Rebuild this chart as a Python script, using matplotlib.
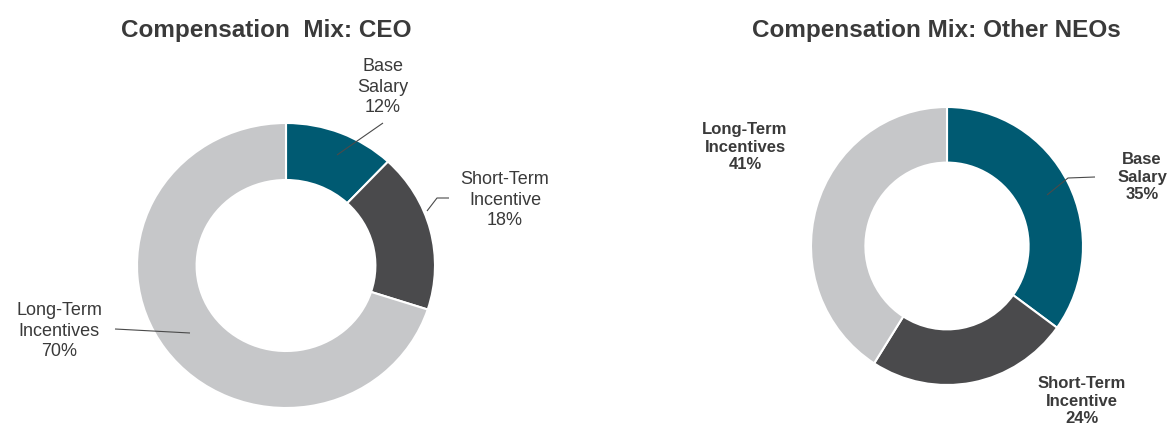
import matplotlib
matplotlib.use("Agg")
import matplotlib.pyplot as plt

# data
components = ["Base\nSalary", "Short-Term\nIncentive", "Long-Term\nIncentives"]
ceo_mix = [12, 18, 70]
neo_mix = [35, 24, 41]
colors = ["#005a72", "#4a4a4c", "#c6c7c9"]

W, H = 1168, 428
fig = plt.figure(figsize=(W / 100, H / 100), dpi=100)


def donut(cx, cy, rx, ry, values):
    # cx, cy, rx, ry in image pixels (y down); axes box sized so the ring fills it
    m = 1.05
    ax = fig.add_axes([(cx - m * rx) / W, (H - cy - m * ry) / H,
                       2 * m * rx / W, 2 * m * ry / H])
    ax.pie(values, colors=colors, startangle=90, counterclock=False,
           wedgeprops=dict(width=0.4, edgecolor="white", linewidth=1.5))
    ax.set_aspect("auto")
    ax.set_xlim(-m, m)
    ax.set_ylim(-m, m)
    ax.axis("off")
    return ax


ax1 = donut(286, 265.5, 149, 142.5, ceo_mix)
ax2 = donut(947, 246, 136, 139, neo_mix)

# overlay in pixel coordinates for titles, labels and leader lines
ov = fig.add_axes([0, 0, 1, 1])
ov.set_xlim(0, W)
ov.set_ylim(H, 0)
ov.axis("off")
ov.patch.set_visible(False)
ov.set_zorder(5)

title_font = dict(family=["Liberation Sans", "DejaVu Sans"], fontsize=17.5,
                  fontweight="bold", color="#3a3a3a", ha="center", va="baseline")
ov.text(266.5, 36.5, "Compensation  Mix: CEO", **title_font)
ov.text(936, 37, "Compensation Mix: Other NEOs", **title_font)

# left chart labels (regular)
left_font = dict(family=["Liberation Sans", "DejaVu Sans"], fontsize=13,
                 color="#3a3a3a", ha="center", va="center", linespacing=1.24)
left_pos = [(383, 87), (505, 200), (59, 331)]
for (x, y), name, v in zip(left_pos, components, ceo_mix):
    ov.text(x, y, f"{name}\n{v}%", **left_font)

# right chart labels (bold narrow)
right_font = dict(family=["Liberation Sans Narrow", "Liberation Sans", "DejaVu Sans"],
                  fontsize=12, fontweight="bold", color="#3a3a3a",
                  ha="center", va="center", linespacing=1.22)
right_pos = [(1142, 177), (1082, 401), (745, 147)]
for (x, y), name, v in zip(right_pos, components, neo_mix):
    ov.text(x, y, f"{name}\n{v}%", **right_font)

# leader lines
line_kw = dict(color="#4a4a4a", linewidth=0.8, solid_capstyle="butt")
ov.plot([337, 383], [155, 123], **line_kw)
ov.plot([427, 437, 449], [211, 198, 198], **line_kw)
ov.plot([115, 190], [329, 333], **line_kw)
ov.plot([1047, 1068, 1095], [195, 178, 177], **line_kw)

fig.savefig("out.png", dpi=100, facecolor="white")
